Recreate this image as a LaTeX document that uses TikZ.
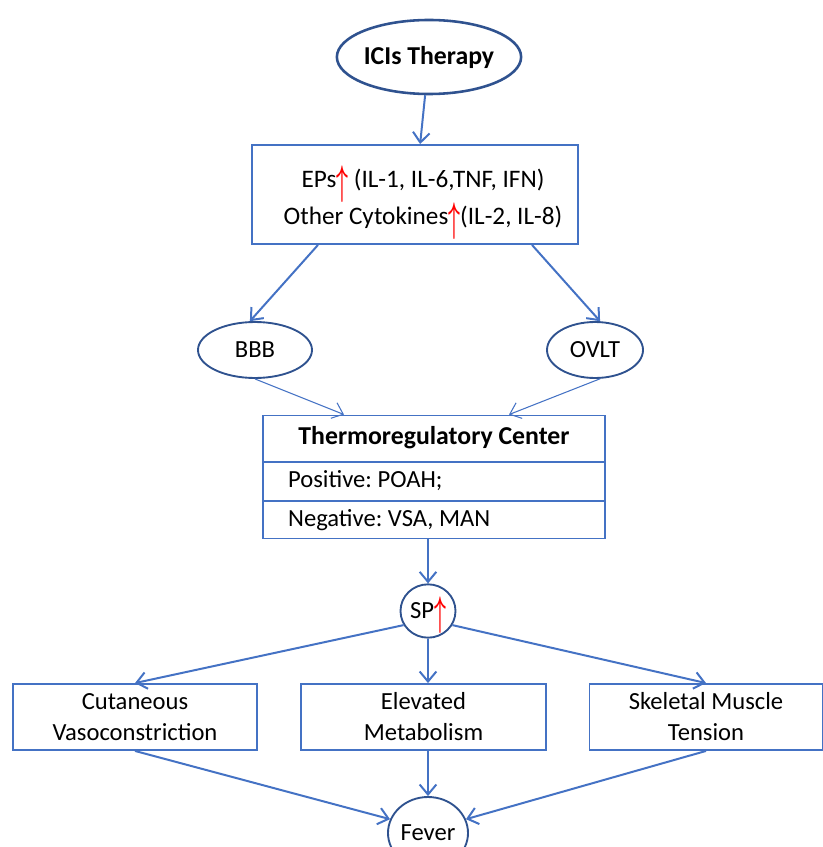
\documentclass[tikz,border=0pt]{standalone}
\usepackage{amsmath}
\usepackage{fontspec}
\setmainfont{Carlito}
\usetikzlibrary{arrows.meta, shapes.geometric}
\frenchspacing

\definecolor{lineblue}{HTML}{4472C4}
\definecolor{darkblue}{HTML}{2F528F}
\newcommand{\redup}{\textcolor{red}{\smash{\raisebox{-0.2cm}{\scalebox{0.85}[1.7]{$\boldsymbol{\uparrow}$}}}}}

\begin{document}
\begin{tikzpicture}[
      x=0.03cm, y=-0.03cm,
      font=\fontsize{21}{27}\selectfont,
      box/.style={rectangle, draw=lineblue, line width=1.6pt, inner sep=0pt, align=center},
      oval/.style={ellipse, draw=darkblue, line width=1.6pt, inner sep=0pt},
      flow/.style={draw=lineblue, line width=1.7pt, -{Straight Barb[length=3mm, width=5mm]}},
      thinflow/.style={flow, line width=0.9pt}
    ]
    \useasboundingbox (0,0) rectangle (823,847);
    \node[oval, line width=2.2pt, minimum width=5.16cm, minimum height=2.22cm,
          font=\bfseries\fontsize{22}{26}\selectfont] (ici) at (429,57) {ICIs Therapy};
    \node[box, minimum width=9.78cm, minimum height=2.97cm] (eps) at (415,194.5) {};
    \node[align=center, font=\fontsize{21.5}{32}\selectfont] (epstext) at (423,199)
      {EPs\redup{} (IL-1, IL-6,TNF, IFN)\\Other Cytokines\redup(IL-2, IL-8)};
    \node[oval, minimum width=3.42cm, minimum height=1.68cm] (bbb) at (255,350) {BBB};
    \node[oval, minimum width=2.88cm, minimum height=1.68cm] (ovlt) at (595,350) {OVLT};
    % thermoregulatory center with its two rows
    \node[box, minimum width=10.26cm, minimum height=3.69cm] (tc) at (434,477) {};
    \node[font=\bfseries\fontsize{22}{26}\selectfont] (tctitle) at (434,438) {Thermoregulatory Center};
    \node[anchor=west] (pos) at (284,481) {Positive: POAH;};
    \node[anchor=west] (neg) at (284,520) {Negative: VSA, MAN};
    \coordinate (row1) at (0,462);
    \coordinate (row2) at (0,501);
    \draw[lineblue, line width=1.2pt] (tc.west |- row1) -- (tc.east |- row1);
    \draw[lineblue, line width=1.2pt] (tc.west |- row2) -- (tc.east |- row2);
    \node[oval, minimum width=1.65cm, minimum height=1.6cm] (sp) at (428,611) {SP\redup};
    \node[box, minimum width=7.32cm, minimum height=1.98cm, font=\fontsize{21}{26.4}\selectfont] (cv) at (135,717)
      {Cutaneous\\Vasoconstriction};
    \node[box, minimum width=7.35cm, minimum height=1.98cm, font=\fontsize{21}{26.4}\selectfont] (em) at (423.5,717)
      {Elevated\\Metabolism};
    \node[box, minimum width=6.99cm, minimum height=1.98cm, font=\fontsize{21}{26.4}\selectfont] (sk) at (706,717)
      {Skeletal Muscle\\Tension};
    \node[oval, minimum width=2.4cm, minimum height=2.16cm] (fever) at (428,833) {Fever};

    \draw[flow] (ici) -- (eps);
    \draw[flow] ([xshift=-2.91cm]eps.south) -- (bbb.100);
    \draw[flow] ([xshift=3.51cm]eps.south) -- (ovlt.80);
    \draw[thinflow] (bbb.south) -- ([xshift=-2.7cm]tc.north);
    \draw[thinflow] (ovlt.-80) -- ([xshift=2.25cm]tc.north);
    \draw[flow] (tc.south -| sp) -- (sp);
    \draw[flow] (sp.210) -- (cv.north);
    \draw[flow] (sp.south) -- (sp.south |- em.north);
    \draw[flow] (sp.-30) -- (sk.north);
    \draw[flow] (cv.south) -- (fever.160);
    \draw[flow] (em.south -| fever) -- (fever.north);
    \draw[flow] (sk.south) -- (fever.20);
\end{tikzpicture}
\end{document}
